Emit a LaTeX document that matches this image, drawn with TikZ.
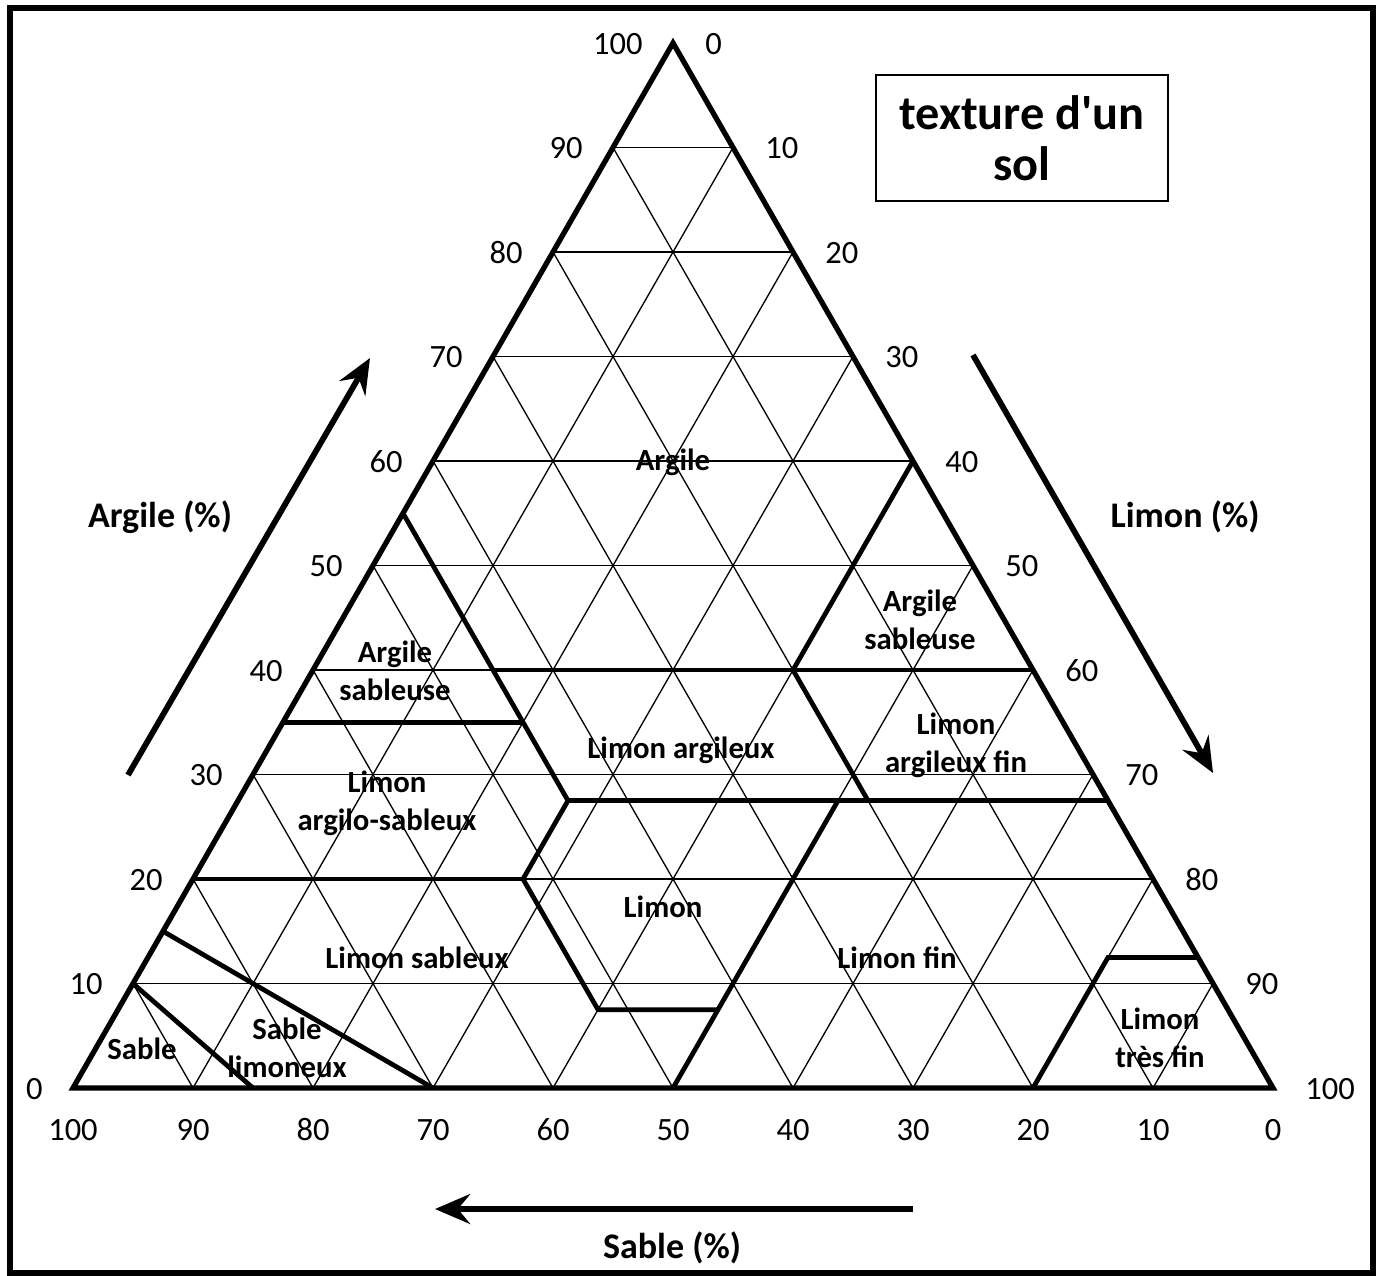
\documentclass[tikz,border=0pt]{standalone}
\usepackage{fontspec}
\setmainfont{Carlito}
\usetikzlibrary{arrows.meta}

% point of the triangle from sand and clay (in %)
\newcommand\tern[2]{({1273-12*(#1)-6*(#2)},{1088-10.45*(#2)})}

\begin{document}
\begin{tikzpicture}[x=0.02cm, y=-0.02cm,
  grid/.style = {line width=0.75pt},
  zone/.style = {line width=2.7pt, line join=miter},
  side/.style = {line width=3pt, line join=miter},
  axe/.style = {line width=3.3pt, -{Stealth[length=20pt, width=17pt, inset=7pt]}},
  num/.style = {font=\fontsize{18.5}{22}\selectfont, inner sep=0pt,
    text height=11.7pt, text depth=0pt},
  lab/.style = {font=\bfseries\fontsize{17.5}{21.5}\selectfont, align=center, inner sep=0pt},
  titre/.style = {font=\bfseries\fontsize{20.5}{24}\selectfont, inner sep=0pt}]
  \useasboundingbox (0,0) rectangle (1381,1275);
  \draw[line width=2.9pt] (10,8) rectangle (1373,1273);

  \coordinate (S) at (73,1088);
  \coordinate (A) at (673,43);
  \coordinate (L) at (1273,1088);

  % grid
  \foreach \k in {1,...,9} {
    \draw[grid] \tern{100-10*\k}{10*\k} -- \tern{0}{10*\k};
    \draw[grid] \tern{10*\k}{0} -- \tern{10*\k}{100-10*\k};
    \draw[grid] \tern{100-10*\k}{0} -- \tern{0}{100-10*\k};
  }

  % classes
  \draw[zone] \tern{45}{55} -- \tern{45}{27.5} -- \tern{52.5}{20}
    -- \tern{52.5}{7.5} -- \tern{42.5}{7.5};
  \draw[zone] \tern{50}{0} -- \tern{22.5}{27.5};
  \draw[zone] \tern{45}{40} -- \tern{0}{40};
  \draw[zone] \tern{0}{60} -- \tern{20}{40} -- \tern{20}{27.5};
  \draw[zone] \tern{45}{27.5} -- \tern{0}{27.5};
  \draw[zone] \tern{65}{35} -- \tern{45}{35};
  \draw[zone] \tern{80}{20} -- \tern{52.5}{20};
  \draw[zone] \tern{85}{15} -- \tern{70}{0};
  \draw[zone] \tern{90}{10} -- \tern{85}{0};
  \draw[zone] \tern{20}{0} -- \tern{7.5}{12.5} -- \tern{0}{12.5};

  \draw[side] (S) -- (A) -- (L) -- cycle;

  % graduations
  \foreach \k in {0,...,10} {
    \pgfmathtruncatemacro\v{10*\k}
    \node[num, anchor=east] (ga\k) at ({43+6*\v},{1089-10.45*\v}) {\v};
    \node[num, anchor=west] (dr\k) at ({705+6*\v},{44+10.45*\v}) {\v};
    \node[num] (ba\k) at ({1273-12*\v},1130) {\v};
  }

  \node[lab] (argile) at (673,462) {Argile};
  \node[lab] (argsabg) at (395,671) {Argile\\sableuse};
  \node[lab] (argsabd) at (920,620) {Argile\\sableuse};
  \node[lab] (limarg) at (681,750) {Limon argileux};
  \node[lab] (limargfin) at (956,745) {Limon\\argileux fin};
  \node[lab] (limargsab) at (387,803) {Limon\\argilo-sableux};
  \node[lab] (limon) at (663,907) {Limon};
  \node[lab] (limsab) at (417,958) {Limon sableux};
  \node[lab] (limfin) at (897,958) {Limon fin};
  \node[lab] (sable) at (142,1049) {Sable};
  \node[lab] (sablim) at (287,1048) {Sable\\limoneux};
  \node[lab] (limtfin) at (1160,1038) {Limon\\très fin};

  % axes
  \node[titre] (targ) at (160,517) {Argile (\%)};
  \node[titre] (tlim) at (1185,517) {Limon (\%)};
  \node[titre] (tsab) at (672,1248) {Sable (\%)};
  \coordinate (a1) at (128,775);
  \coordinate (a2) at (370,358);
  \coordinate (l1) at (973,355);
  \coordinate (l2) at (1213,773);
  \coordinate (s1) at (913,1209);
  \coordinate (s2) at (435,1209);
  \draw[axe] (a1) -- (a2);
  \draw[axe] (l1) -- (l2);
  \draw[axe] (s1) -- (s2);

  \node[draw, line width=1.1pt, minimum width=5.84cm, minimum height=2.52cm,
    align=center, font=\bfseries\fontsize{27.5}{29}\selectfont]
    (titre) at (1022,138) {texture d\textquotesingle un\\sol};
\end{tikzpicture}
\end{document}
